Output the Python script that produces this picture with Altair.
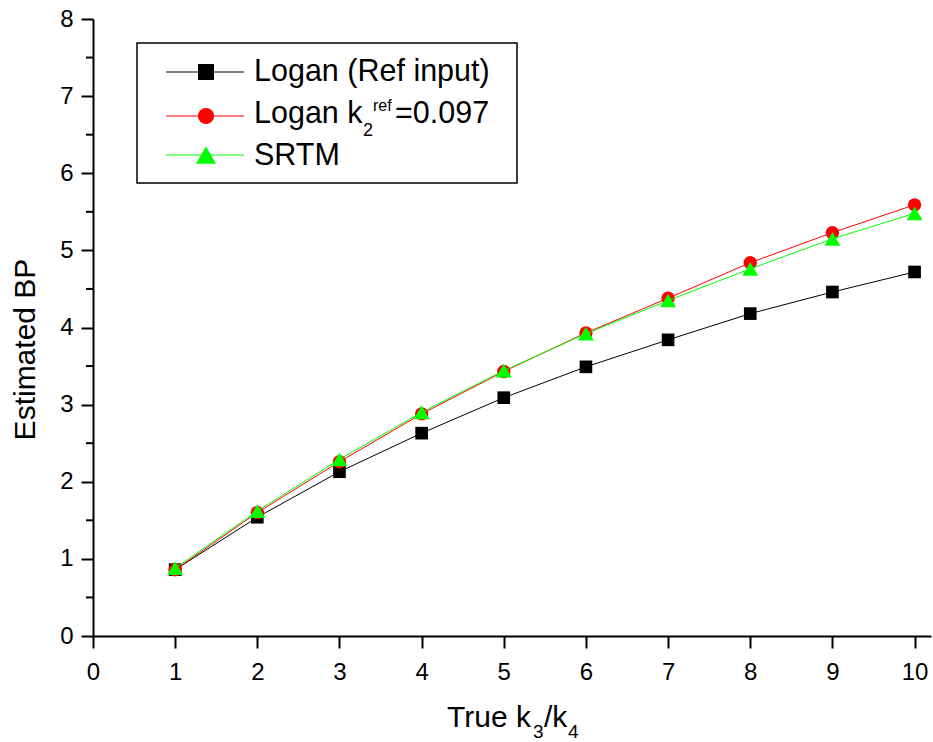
import altair as alt
import pandas as pd

# ---------------- data ----------------
x_vals = [1, 2, 3, 4, 5, 6, 7, 8, 9, 10]
logan_ref = [0.86, 1.54, 2.13, 2.63, 3.09, 3.49, 3.84, 4.18, 4.46, 4.72]
logan_k2 = [0.86, 1.60, 2.26, 2.88, 3.43, 3.93, 4.38, 4.84, 5.23, 5.59]
srtm = [0.88, 1.62, 2.29, 2.90, 3.44, 3.92, 4.35, 4.76, 5.15, 5.48]

series_labels = ["Logan (Ref input)", "Logan k", "SRTM"]
series_colors = ["#000000", "#ff0000", "#00ff00"]
series_shapes = ["square", "circle", "triangle-up"]

x_ticks = [0, 1, 2, 3, 4, 5, 6, 7, 8, 9, 10]
y_ticks = [0, 1, 2, 3, 4, 5, 6, 7, 8]
y_minor = [0.5, 1.5, 2.5, 3.5, 4.5, 5.5, 6.5, 7.5]

FONT = "Liberation Sans"

xs = alt.Scale(domain=[0, 10.2], nice=False, zero=False)
ys = alt.Scale(domain=[0, 8], nice=False, zero=False)

xaxis = alt.Axis(values=x_ticks, title=None, grid=False, tickSize=12, tickWidth=2,
                 domainWidth=2, labelFontSize=24, labelPadding=12, labelFont=FONT,
                 domainColor="black", tickColor="black", labelColor="black",
                 labelFlush=False, labelOverlap=False)
yaxis = alt.Axis(values=y_ticks, title="Estimated BP", grid=False, tickSize=12, tickWidth=2,
                 domainWidth=2, labelFontSize=24, labelPadding=8, labelFont=FONT,
                 domainColor="black", tickColor="black", labelColor="black",
                 titleFont=FONT, titleFontSize=30, titleFontWeight="normal",
                 titleColor="black", titleAngle=270, titleAlign="center",
                 titleBaseline="alphabetic", titleX=-59, titleY=330,
                 labelFlush=False, labelOverlap=False)

X = alt.X("x:Q", scale=xs, axis=xaxis)
Y = alt.Y("y:Q", scale=ys, axis=yaxis)

one = pd.DataFrame({"a": [0]})

layers = []

# minor y ticks
layers.append(
    alt.Chart(pd.DataFrame({"y": y_minor})).mark_rule(color="black", strokeWidth=2)
    .encode(y=Y, x=alt.value(-7), x2=alt.value(0))
)

# series
sizes = [160, 180, 250]
for vals, col, shp, sz in zip([logan_ref, logan_k2, srtm], series_colors, series_shapes, sizes):
    df = pd.DataFrame({"x": x_vals, "y": vals})
    base = alt.Chart(df)
    layers.append(base.mark_line(color=col, strokeWidth=1).encode(x=X, y=Y))
    layers.append(base.mark_point(shape=shp, filled=True, color=col, size=sz, opacity=1,
                                  strokeWidth=0).encode(x=X, y=Y))

# legend box
layers.append(
    alt.Chart(one).mark_rect(fill="white", stroke="black", strokeWidth=1.5)
    .encode(x=alt.value(44), x2=alt.value(424), y=alt.value(24), y2=alt.value(164))
)
row_y = [53, 97, 136]
row_base = [62, 104, 146]
leg_sizes = [256, 260, 400]
for i in range(3):
    layers.append(alt.Chart(one).mark_rule(color=series_colors[i], strokeWidth=1)
                  .encode(x=alt.value(73), x2=alt.value(151), y=alt.value(row_y[i])))
    layers.append(alt.Chart(one).mark_point(shape=series_shapes[i], filled=True,
                                            color=series_colors[i], size=leg_sizes[i],
                                            opacity=1, strokeWidth=0)
                  .encode(x=alt.value(113), y=alt.value(row_y[i])))
    layers.append(alt.Chart(one).mark_text(text=series_labels[i], align="left",
                                           baseline="alphabetic", font=FONT, fontSize=30.5,
                                           color="black")
                  .encode(x=alt.value(161), y=alt.value(row_base[i])))

# subscript / superscript pieces of the second legend label
def txt(s, x, y, size):
    return alt.Chart(one).mark_text(text=s, align="left", baseline="alphabetic",
                                    font=FONT, fontSize=size, color="black").encode(
        x=alt.value(x), y=alt.value(y))

layers.append(txt("2", 270, 117, 18))
layers.append(txt("ref", 280, 92, 16))
layers.append(txt("=0.097", 302, 104, 30.5))

# x-axis title with subscripts
layers.append(txt("True k", 354, 708, 30))
layers.append(txt("3", 440, 719, 19))
layers.append(txt("/k", 451, 708, 30))
layers.append(txt("4", 475, 719, 19))

chart = alt.layer(*layers).properties(
    width=838, height=617,
    padding={"left": 93, "top": 19, "right": 2, "bottom": 106},
    autosize=alt.AutoSizeParams(type="none"),
    background="white",
).configure_view(stroke=None)

chart.save("out.html", embed_options={"renderer": "svg", "actions": False})
